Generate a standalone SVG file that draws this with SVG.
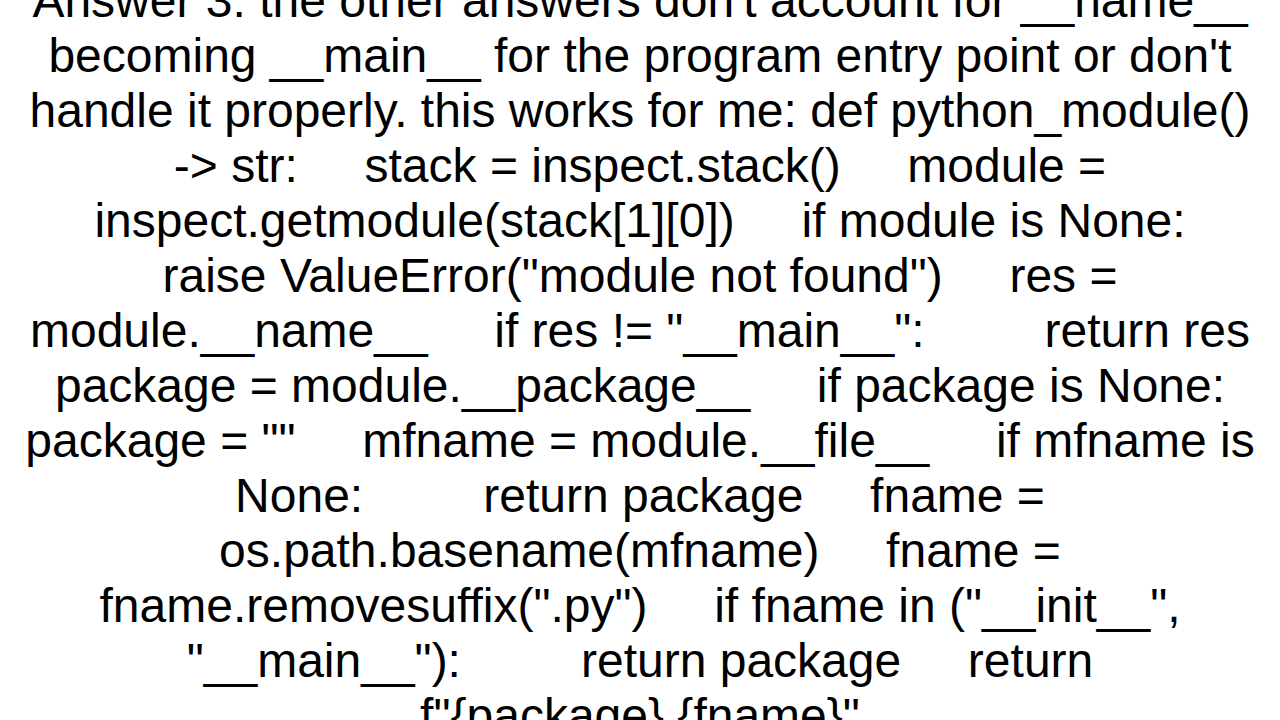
<svg xmlns="http://www.w3.org/2000/svg" width="1280" height="720" viewBox="0 0 1280 720">
<style>
text{font-family:"Liberation Sans",Arial,sans-serif;font-size:48px;fill:#000;text-anchor:middle;white-space:pre}
</style>
<rect width="1280" height="720" fill="#fff"/>
<g id="answer">
<text x="640" y="17">Answer 3: the other answers don't account for __name__</text>
<text x="640" y="72">becoming __main__ for the program entry point or don't</text>
<text x="640" y="127">handle it properly. this works for me: def python_module()</text>
<text x="640" y="182">-&gt; str:     stack = inspect.stack()     module =</text>
<text x="640" y="237">inspect.getmodule(stack[1][0])     if module is None:</text>
<text x="640" y="292">raise ValueError("module not found")     res =</text>
<text x="640" y="347">module.__name__     if res != "__main__":         return res</text>
<text x="640" y="402">package = module.__package__     if package is None:</text>
<text x="640" y="457">package = ""     mfname = module.__file__     if mfname is</text>
<text x="640" y="512">None:         return package     fname =</text>
<text x="640" y="567">os.path.basename(mfname)     fname =</text>
<text x="640" y="622">fname.removesuffix(".py")     if fname in ("__init__",</text>
<text x="640" y="677">"__main__"):         return package     return</text>
<text x="640" y="732">f"{package}.{fname}"</text>
</g>
</svg>
